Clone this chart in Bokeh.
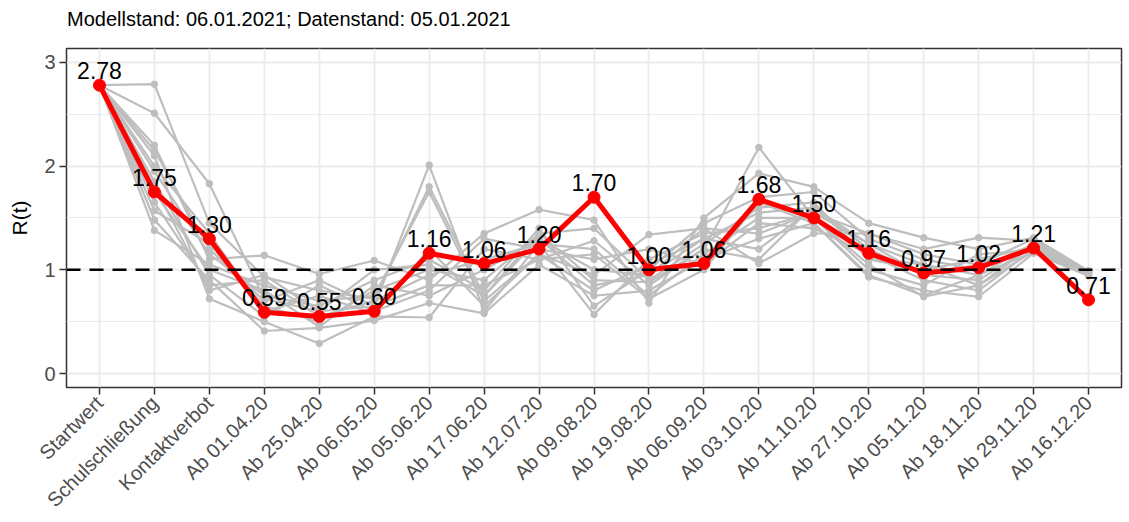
import math
from bokeh.plotting import figure
from bokeh.layouts import column
from bokeh.models import FactorRange, Range1d, FixedTicker, Span, ColumnDataSource, Div
from bokeh.core.properties import value
from bokeh.embed import file_html
from bokeh.resources import INLINE

categories = ["Startwert", "Schulschließung", "Kontaktverbot", "Ab 01.04.20", "Ab 25.04.20",
              "Ab 06.05.20", "Ab 05.06.20", "Ab 17.06.20", "Ab 12.07.20", "Ab 09.08.20",
              "Ab 19.08.20", "Ab 06.09.20", "Ab 03.10.20", "Ab 11.10.20", "Ab 27.10.20",
              "Ab 05.11.20", "Ab 18.11.20", "Ab 29.11.20", "Ab 16.12.20"]

r_main = [2.78, 1.75, 1.30, 0.59, 0.55, 0.60, 1.16, 1.06, 1.20, 1.70,
          1.00, 1.06, 1.68, 1.50, 1.16, 0.97, 1.02, 1.21, 0.71]

grey_01 = [2.78, 2.79, 1.45, 0.93, 0.80, 0.72, 1.80, 0.75, 1.30, 0.85, 0.95, 1.30, 1.55, 1.60, 1.20, 0.95, 1.05, 1.20, 0.97]
grey_02 = [2.78, 2.51, 1.83, 0.72, 0.60, 0.65, 2.01, 0.60, 1.25, 0.57, 1.10, 1.35, 1.40, 1.55, 1.25, 1.05, 0.95, 1.25, 0.98]
grey_03 = [2.78, 2.20, 1.10, 1.14, 0.96, 1.09, 0.90, 1.35, 1.58, 1.48, 0.68, 1.50, 1.93, 1.80, 1.45, 1.31, 1.20, 1.31, 0.99]
grey_04 = [2.78, 2.10, 0.72, 0.50, 0.29, 0.55, 0.54, 1.20, 1.10, 1.28, 0.85, 1.20, 2.18, 1.50, 1.05, 0.74, 0.85, 1.18, 0.95]
grey_05 = [2.78, 1.38, 1.05, 0.85, 0.70, 0.75, 1.75, 0.70, 1.15, 0.95, 1.34, 1.40, 1.06, 1.35, 1.35, 1.20, 1.31, 1.28, 0.96]
grey_06 = [2.78, 1.48, 0.90, 0.41, 0.44, 0.51, 0.68, 0.58, 1.05, 0.75, 0.80, 1.10, 1.30, 1.45, 0.93, 0.80, 0.74, 1.16, 0.94]
grey_07 = [2.78, 1.57, 1.25, 0.65, 0.50, 0.80, 1.00, 0.90, 1.35, 1.40, 0.90, 1.25, 1.60, 1.65, 1.10, 1.00, 1.10, 1.22, 0.97]
grey_08 = [2.78, 1.85, 0.95, 0.55, 0.85, 0.60, 0.80, 1.30, 1.20, 1.10, 1.20, 1.05, 1.45, 1.40, 1.15, 0.90, 0.80, 1.20, 0.96]
grey_09 = [2.78, 1.95, 1.15, 0.75, 0.65, 0.90, 1.10, 0.80, 1.40, 0.65, 1.00, 1.45, 1.70, 1.75, 1.30, 1.10, 1.00, 1.25, 0.98]
grey_10 = [2.78, 1.65, 0.85, 0.90, 0.55, 0.70, 0.95, 1.10, 1.25, 1.20, 0.75, 1.15, 1.50, 1.50, 1.00, 0.85, 1.15, 1.19, 0.95]
grey_11 = [2.78, 2.00, 1.35, 0.60, 0.75, 0.58, 1.20, 0.65, 1.15, 0.80, 1.05, 1.30, 1.20, 1.60, 1.25, 0.95, 0.90, 1.23, 0.99]
grey_12 = [2.78, 1.75, 1.00, 0.80, 0.45, 0.85, 0.75, 1.00, 1.30, 1.00, 0.95, 1.40, 1.35, 1.55, 1.35, 1.15, 1.05, 1.30, 0.97]
grey_13 = [2.78, 2.15, 1.20, 0.70, 0.90, 0.65, 0.85, 0.85, 1.10, 1.15, 0.72, 1.00, 1.65, 1.45, 0.95, 0.75, 0.95, 1.17, 0.96]
grey_14 = [2.78, 1.80, 0.80, 0.95, 0.60, 1.00, 1.05, 0.75, 1.35, 0.90, 0.88, 1.20, 1.10, 1.62, 1.12, 1.05, 0.85, 1.24, 0.98]

grey_series = [grey_01, grey_02, grey_03, grey_04, grey_05, grey_06, grey_07,
               grey_08, grey_09, grey_10, grey_11, grey_12, grey_13, grey_14]

title_text = "Modellstand: 06.01.2021; Datenstand: 05.01.2021"
y_label = "R(t)"
y_ticks = [0, 1, 2, 3]
y_minor = [0.5, 1.5, 2.5]
threshold = 1.0

FONT = "Liberation Sans"
W, H = 1129, 522
DIV_H = 46

header = Div(text=title_text, width=W - 67, height=DIV_H, margin=(0, 0, 0, 67),
             styles={"font-family": FONT, "font-size": "20px", "color": "#000000",
                     "padding-top": "8px", "line-height": "1.15", "white-space": "nowrap"})

p = figure(width=W, height=H - DIV_H, output_backend="svg", toolbar_location=None,
           x_range=FactorRange(factors=categories, range_padding=0.1,
                               range_padding_units="absolute"),
           y_range=Range1d(-0.135, 3.134),
           min_border_left=66, min_border_right=8, min_border_top=2, min_border_bottom=135,
           margin=(0, 0, 0, 0))

p.background_fill_color = "#FFFFFF"
p.border_fill_color = "#FFFFFF"
p.outline_line_color = "#333333"
p.outline_line_width = 1.5

p.xgrid.grid_line_color = "#EBEBEB"
p.xgrid.grid_line_width = 1.8
p.ygrid.grid_line_color = "#EBEBEB"
p.ygrid.grid_line_width = 1.8
p.ygrid.minor_grid_line_color = "#EBEBEB"
p.ygrid.minor_grid_line_width = 1.2

p.yaxis.ticker = FixedTicker(ticks=y_ticks, minor_ticks=y_minor)
p.yaxis.axis_label = y_label
p.yaxis.axis_label_text_font = FONT
p.yaxis.axis_label_text_font_size = "21px"
p.yaxis.axis_label_text_font_style = "normal"
p.yaxis.axis_label_text_color = "#000000"
p.yaxis.axis_label_standoff = 10

for ax in (p.xaxis[0], p.yaxis[0]):
    ax.axis_line_color = None
    ax.major_tick_line_color = "#333333"
    ax.major_tick_line_width = 1.5
    ax.major_tick_in = 0
    ax.major_tick_out = 7
    ax.minor_tick_line_color = None
    ax.major_label_text_font = FONT
    ax.major_label_text_font_size = "20px"
    ax.major_label_text_color = "#4D4D4D"
    ax.major_label_standoff = 4

p.xaxis.major_label_orientation = math.pi / 4
p.xaxis.major_label_standoff = 5

for s in grey_series:
    p.line(categories, s, line_color="#BEBEBE", line_width=2.2)
    p.scatter(categories, s, size=6.5, fill_color="#BEBEBE", line_color="#BEBEBE")

p.add_layout(Span(location=threshold, dimension="width", line_color="#000000",
                  line_width=2.5, line_dash="14 9"))

src = ColumnDataSource(dict(x=categories, y=r_main, lab=["%.2f" % v for v in r_main]))
p.line("x", "y", source=src, line_color="#FF0000", line_width=5)
p.scatter("x", "y", source=src, size=12, fill_color="#FF0000", line_color="#FF0000")
p.text("x", "y", text="lab", source=src, text_align="center", text_baseline="bottom",
       y_offset=-6, text_font=value(FONT), text_font_size="23px", text_color="#000000")

layout = column(header, p, spacing=0, margin=(0, 0, 0, 0))

open("out.html", "w").write(file_html(layout, INLINE))
